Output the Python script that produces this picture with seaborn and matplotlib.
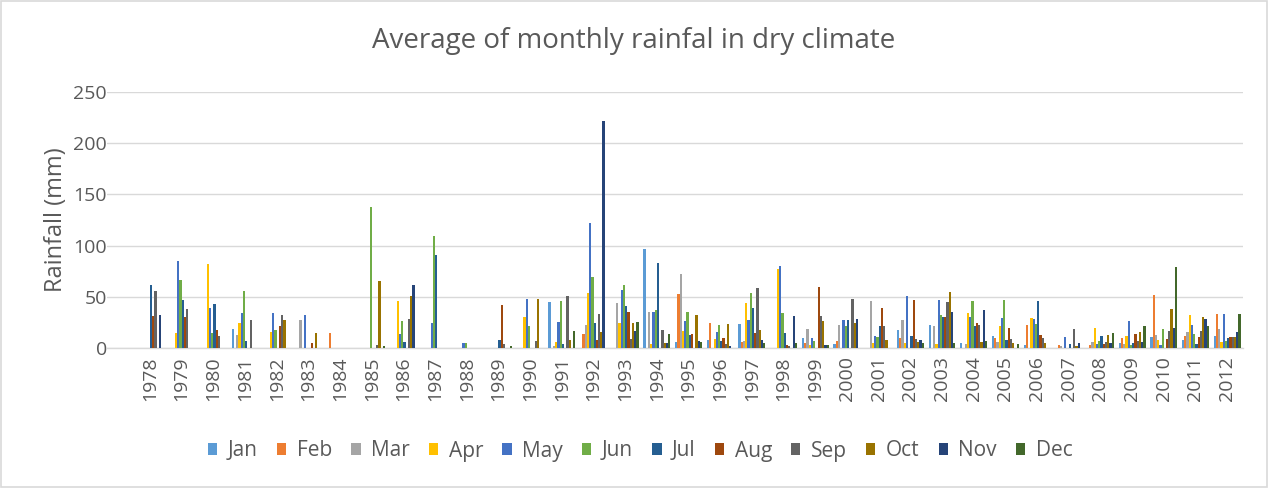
import numpy as np
import pandas as pd
import matplotlib
matplotlib.use("Agg")
import matplotlib.pyplot as plt
from matplotlib.patches import Rectangle
import seaborn as sns

years = [str(y) for y in range(1978, 2013)]
months = ["Jan", "Feb", "Mar", "Apr", "May", "Jun",
          "Jul", "Aug", "Sep", "Oct", "Nov", "Dec"]

jan = [0, 0, 0, 19, 0, 0, 0, 0, 0, 0, 0, 0, 0, 45, 0, 0, 97, 6, 8, 23,
       0, 10, 3.5, 0, 18, 22, 5, 12, 2.5, 0, 0, 5, 10.5, 8, 11.5]
feb = [0, 0, 0, 0, 0, 0, 15, 0, 0, 0, 0, 0, 0, 0, 14, 0, 0, 53, 24, 6,
       0, 5, 7, 0, 10, 0, 0, 10, 22, 3, 3, 10, 51.5, 12, 33]
mar = [0, 0, 0, 13, 0, 27, 0, 0, 0, 0, 0, 0, 0, 2, 22, 44, 35, 72, 0, 7,
       0, 19, 22, 46, 27, 21.5, 4, 6, 0, 2, 6, 4, 13, 16, 19]
apr = [0, 15, 82, 24, 16, 0, 0, 0, 46, 0, 0, 0, 30, 6, 54, 24, 4, 17, 9, 44,
       77, 3, 0, 5, 5, 4, 34, 21, 29, 0, 20, 11.5, 8, 32, 6]
may = [0, 85, 39, 34, 34, 32, 0, 0, 14, 24, 5, 0, 48, 25.5, 122, 57, 35, 26, 16, 27,
       80, 10, 27, 12, 51, 47, 30, 29, 28, 11, 4, 26, 2.5, 22.5, 33]
jun = [0, 66, 15, 56, 18, 0, 0, 138, 26, 109, 5, 0, 21, 46, 69, 62, 37, 35, 22, 54,
       34, 7, 21, 11, 0, 32.5, 46, 47, 23, 0, 7, 3, 19, 14, 6.5]
jul = [62, 47, 43, 7, 0, 0, 0, 0, 6, 91, 0, 8, 0, 4, 24, 41.5, 83, 13, 7, 39,
       15, 0, 27, 21, 12, 30, 21, 8, 46, 4, 12, 5, 0, 3.5, 10]
aug = [31, 30, 18, 0, 21, 5, 0, 0, 0, 0, 0, 42, 0, 0, 8, 35, 0, 14, 10, 15,
       3, 60, 0, 39, 47, 30, 24, 20, 13, 0, 3.5, 14, 9, 11, 11]
sep = [56, 38, 12, 27, 32, 0, 0, 3, 28, 0, 0, 4, 7, 51, 33, 9, 18, 0, 3.5, 59,
       2, 31, 48, 21, 9, 45, 22, 9, 10, 19, 5.5, 7, 17, 17, 11]
oct_ = [0, 0, 0, 0, 27, 15, 0, 65, 51, 0, 0, 0, 48, 7.5, 16, 24, 5, 32, 23, 18,
        0, 26, 24, 8, 6, 55, 6, 5, 4.5, 2, 13, 15.5, 38, 30, 10.5]
nov = [32, 0, 0, 0, 0, 0, 0, 0, 62, 0, 0, 0, 0, 0, 222, 17, 5, 7, 2, 8,
       31, 2.5, 28, 0, 8, 35, 37, 0, 0, 4.5, 5, 6, 20, 28, 16]
dec = [0, 0, 0, 0, 0, 0, 0, 2, 0, 0, 0, 2, 0, 17, 0, 25.5, 14, 6, 0, 5,
       5, 3, 0, 0, 4.5, 4.5, 7, 4, 0, 0, 15, 21.5, 79, 21.5, 33]

colors = ["#5B9BD5", "#ED7D31", "#A5A5A5", "#FFC000", "#4472C4", "#70AD47",
          "#255E91", "#9E480E", "#636363", "#997300", "#264478", "#43682B"]

series = [jan, feb, mar, apr, may, jun, jul, aug, sep, oct_, nov, dec]
df = pd.DataFrame({
    "Year": np.tile(years, len(months)),
    "Month": np.repeat(months, len(years)),
    "Rainfall": np.concatenate([np.asarray(s, dtype=float) for s in series]),
})

sns.set_theme(style="white")
plt.rcParams["font.family"] = ["Open Sans", "DejaVu Sans"]
text_color = "#595959"
grid_color = "#D9D9D9"

W, H = 1268, 488
fig = plt.figure(figsize=(W / 100, H / 100), dpi=100)
left_px, right_px, top_px, bottom_px = 107, 1243, 92, 348
ax = fig.add_axes([left_px / W, 1 - bottom_px / H,
                   (right_px - left_px) / W, (bottom_px - top_px) / H])

sns.barplot(data=df, x="Year", y="Rainfall", hue="Month",
            order=years, hue_order=months, palette=colors,
            width=0.85, saturation=1, errorbar=None, linewidth=0,
            ax=ax, zorder=3)

ax.set_ylim(0, 250)
ax.set_yticks(np.arange(0, 251, 50))
centre0 = 150
step = 31.68
ax.set_xlim((left_px - centre0) / step, (right_px - centre0) / step)

ax.grid(axis="y", color=grid_color, linewidth=1.0, zorder=0)
ax.set_axisbelow(True)
for side in ["top", "right", "left"]:
    ax.spines[side].set_visible(False)
ax.spines["bottom"].set_color(grid_color)
ax.spines["bottom"].set_linewidth(1.0)
ax.tick_params(axis="both", length=0, colors=text_color, labelsize=14)
ax.tick_params(axis="y", pad=0)
ax.tick_params(axis="x", pad=6)
plt.setp(ax.get_xticklabels(), rotation=90)

ax.set_xlabel("")
ax.set_ylabel("Rainfall (mm)", fontsize=17, color=text_color)
ax.yaxis.set_label_coords((68 - left_px) / (right_px - left_px), 0.5)

handles, labels = ax.get_legend_handles_labels()
ax.get_legend().remove()
fig.legend(handles, labels, ncol=12, loc="center",
           bbox_to_anchor=(0.505, 1 - 451 / H), frameon=False,
           fontsize=15, labelcolor=text_color,
           handlelength=0.45, handleheight=0.45, handletextpad=0.5,
           columnspacing=0.92)

fig.text(0.5, 1 - 41 / H, "Average of monthly rainfal in dry climate",
         ha="center", va="center", fontsize=20, color=text_color)

fig.patches.append(Rectangle((0.0008, 0.002), 0.9984, 0.996,
                             transform=fig.transFigure, fill=False,
                             edgecolor=grid_color, linewidth=1.2))

fig.savefig("out.png", dpi=100)
